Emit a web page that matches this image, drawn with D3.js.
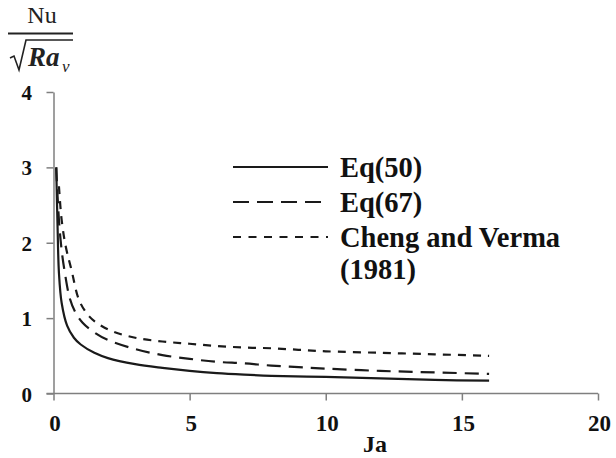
<!DOCTYPE html>
<html>
<head>
<meta charset="utf-8">
<script src="https://cdn.jsdelivr.net/npm/d3@7/dist/d3.min.js"></script>
<style>
  html, body { margin: 0; padding: 0; background: #fff; }
  svg { display: block; }
</style>
</head>
<body>
<div id="chart"></div>
<script>
'use strict';

// ── Data ─────────────────────────────────────────────────────────────────
const eq50Ja  = [0.1, 0.15, 0.2, 0.3, 0.5, 0.75, 1.0, 1.5, 2, 3, 4, 5, 6, 7, 8, 10, 12, 14, 16];
const eq50Nu  = [3.0, 2.2, 1.6, 1.2, 0.9, 0.74, 0.65, 0.54, 0.47, 0.39, 0.34, 0.3, 0.27, 0.25, 0.235, 0.22, 0.2, 0.18, 0.17];

const eq67Ja  = [0.1, 0.2, 0.3, 0.4, 0.6, 0.8, 1.07, 1.5, 2, 3, 4, 5, 6, 7, 8, 9, 10, 12, 14, 16];
const eq67Nu  = [3.0, 2.3, 1.9, 1.64, 1.26, 1.08, 0.94, 0.81, 0.71, 0.59, 0.51, 0.46, 0.42, 0.4, 0.37, 0.35, 0.33, 0.3, 0.28, 0.26];

const chengJa = [0.2, 0.3, 0.45, 0.66, 0.95, 1.32, 1.7, 2.2, 3, 4, 5, 6, 7, 8, 9, 10, 12, 14, 16];
const chengNu = [2.75, 2.3, 1.95, 1.64, 1.23, 1.02, 0.91, 0.82, 0.74, 0.69, 0.66, 0.63, 0.61, 0.6, 0.58, 0.56, 0.54, 0.52, 0.5];

const xTicks = [0, 5, 10, 15, 20];
const yTicks = [0, 1, 2, 3, 4];
const legendLabels = [['Eq(50)'], ['Eq(67)'], ['Cheng and Verma', '(1981)']];

// ── Layout ────────────────────────────────────────────────────────────────
const W = 616, H = 458;
const X0 = 53.5, X1 = 598, Y0 = 393.5, Y1 = 92;
const AXIS = '#7f7f7f';
const INK  = '#1a1a1a';
const SERIF = '"Liberation Serif", "Times New Roman", serif';

const x = d3.scaleLinear().domain([0, 20]).range([X0, X1]);
const y = d3.scaleLinear().domain([0, 4]).range([Y0, Y1]);

const svg = d3.select('#chart').append('svg')
  .attr('width', W).attr('height', H)
  .attr('viewBox', `0 0 ${W} ${H}`);

svg.append('rect').attr('width', W).attr('height', H).attr('fill', '#fff');

function boldText(sel, size) {
  return sel.attr('font-family', SERIF).attr('font-weight', 'bold')
    .attr('font-size', size).attr('fill', '#111');
}

// ── Axes ──────────────────────────────────────────────────────────────────
const xAxis = svg.append('g')
  .attr('transform', `translate(0,${Y0})`)
  .call(d3.axisBottom(x).tickValues(xTicks).tickSize(7).tickSizeOuter(0).tickFormat(''));
xAxis.select('.domain').attr('stroke', AXIS).attr('stroke-width', 1.5)
  .attr('d', `M${X0 - 7},0H${X1}`);
xAxis.selectAll('.tick line').attr('stroke', AXIS).attr('stroke-width', 1.5);

const yAxis = svg.append('g')
  .attr('transform', `translate(${X0},0)`)
  .call(d3.axisLeft(y).tickValues(yTicks).tickSize(7).tickSizeOuter(0).tickFormat(''));
yAxis.select('.domain').attr('stroke', AXIS).attr('stroke-width', 1.5);
yAxis.selectAll('.tick line').attr('stroke', AXIS).attr('stroke-width', 1.5);

svg.append('g').selectAll('text')
  .data(xTicks).enter().append('text')
  .call(boldText, 23)
  .attr('x', d => x(d) + 1.5)
  .attr('y', 431)
  .attr('text-anchor', 'middle')
  .text(d => d);

svg.append('g').selectAll('text')
  .data(yTicks).enter().append('text')
  .call(boldText, 21)
  .attr('x', 32)
  .attr('y', d => y(d) + 8)
  .attr('text-anchor', 'end')
  .text(d => d);

svg.append('text')
  .call(boldText, 24)
  .attr('x', 363)
  .attr('y', 452)
  .text('Ja');

// y title: Nu / sqrt(Ra_v)
const yt = svg.append('g');
yt.append('text')
  .attr('x', 42).attr('y', 23)
  .attr('text-anchor', 'middle')
  .attr('font-family', SERIF)
  .attr('font-size', 24)
  .attr('fill', '#222')
  .text('Nu');
yt.append('line')
  .attr('x1', 8).attr('x2', 73).attr('y1', 33.5).attr('y2', 33.5)
  .attr('stroke', '#222').attr('stroke-width', 2);
yt.append('path')
  .attr('d', 'M10,58 L14,56 L19,70 L26,40 L73,40')
  .attr('fill', 'none').attr('stroke', '#222').attr('stroke-width', 1.6);
yt.append('text')
  .attr('x', 28).attr('y', 66)
  .attr('font-family', SERIF)
  .attr('font-size', 27).attr('font-weight', 'bold').attr('font-style', 'italic')
  .attr('fill', '#222')
  .text('Ra');
yt.append('text')
  .attr('x', 62).attr('y', 72)
  .attr('font-family', SERIF)
  .attr('font-size', 17).attr('font-style', 'italic')
  .attr('fill', '#222')
  .text('v');

// ── Series ────────────────────────────────────────────────────────────────
const series = [
  { ja: eq50Ja,  nu: eq50Nu,  dash: null },
  { ja: eq67Ja,  nu: eq67Nu,  dash: '14,8' },
  { ja: chengJa, nu: chengNu, dash: '8,7' },
];

const line = d3.line()
  .x(d => x(d[0]))
  .y(d => y(d[1]))
  .curve(d3.curveCatmullRom.alpha(0.5));

series.forEach(s => {
  svg.append('path')
    .datum(s.ja.map((v, i) => [v, s.nu[i]]))
    .attr('fill', 'none')
    .attr('stroke', INK)
    .attr('stroke-width', 2.2)
    .attr('stroke-dasharray', s.dash)
    .attr('d', line);
});

// ── Legend ────────────────────────────────────────────────────────────────
const lg = svg.append('g');
const rowY = [167, 202, 237];
series.forEach((s, i) => {
  lg.append('line')
    .attr('x1', 233).attr('x2', 328)
    .attr('y1', rowY[i]).attr('y2', rowY[i])
    .attr('stroke', INK).attr('stroke-width', 2.2)
    .attr('stroke-dasharray', i === 1 ? '16,8' : (i === 2 ? '8,7.5' : null));
  legendLabels[i].forEach((t, j) => {
    lg.append('text')
      .call(boldText, 28.5)
      .attr('x', 340)
      .attr('y', rowY[i] + 10 + j * 32)
      .text(t);
  });
});
</script>
</body>
</html>
